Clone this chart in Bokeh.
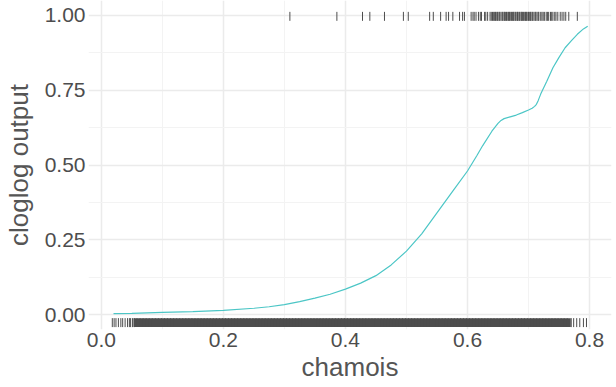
import numpy as np
from bokeh.plotting import figure
from bokeh.models import Range1d, FixedTicker
from bokeh.embed import file_html
from bokeh.resources import INLINE

# response curve (chamois -> cloglog output)
curve_x = [0.02, 0.05, 0.10, 0.15, 0.20, 0.25, 0.275, 0.30, 0.325, 0.35, 0.375,
           0.40, 0.425, 0.45, 0.475, 0.50, 0.525, 0.55, 0.575, 0.60, 0.615, 0.625,
           0.64, 0.65, 0.655, 0.66, 0.67, 0.68, 0.69, 0.70, 0.706, 0.710, 0.713,
           0.716, 0.72, 0.73, 0.74, 0.75, 0.76, 0.77, 0.78, 0.79, 0.797]
curve_y = [0.003, 0.004, 0.007, 0.010, 0.014, 0.021, 0.026, 0.033, 0.043, 0.055,
           0.068, 0.085, 0.105, 0.130, 0.166, 0.212, 0.270, 0.340, 0.410, 0.480,
           0.530, 0.565, 0.613, 0.639, 0.649, 0.655, 0.661, 0.667, 0.675, 0.684,
           0.690, 0.696, 0.703, 0.716, 0.737, 0.780, 0.825, 0.860, 0.892, 0.915,
           0.937, 0.955, 0.964]

# presence locations (top rug, y = 1)
presence_x = [0.309, 0.386, 0.428, 0.440, 0.464, 0.495, 0.503, 0.538, 0.544, 0.556,
              0.565, 0.569, 0.576, 0.587, 0.592, 0.595, 0.606, 0.609, 0.611, 0.614,
              0.618, 0.621, 0.623, 0.628, 0.630, 0.633, 0.637, 0.639, 0.641, 0.643,
              0.644, 0.646, 0.647, 0.649, 0.650, 0.652, 0.653, 0.655, 0.657, 0.658,
              0.660, 0.661, 0.662, 0.664, 0.665, 0.667, 0.668, 0.669, 0.671, 0.672,
              0.674, 0.675, 0.676, 0.678, 0.679, 0.681, 0.682, 0.683, 0.685, 0.686,
              0.688, 0.689, 0.690, 0.692, 0.693, 0.695, 0.696, 0.697, 0.699, 0.700,
              0.702, 0.703, 0.704, 0.706, 0.707, 0.709, 0.711, 0.712, 0.714, 0.716,
              0.717, 0.720, 0.722, 0.724, 0.726, 0.729, 0.731, 0.733, 0.736, 0.738,
              0.740, 0.743, 0.745, 0.748, 0.752, 0.755, 0.758, 0.761, 0.766, 0.780]

# background locations (bottom rug, y = 0): sparse edges and dense middle
background_sparse_x = [0.018, 0.021, 0.024, 0.028, 0.032, 0.035, 0.039, 0.043, 0.046,
                       0.048, 0.051, 0.054, 0.770, 0.774, 0.779, 0.784, 0.790, 0.795]
background_dense_milli = [
    56, 61, 66, 71, 76, 81, 86, 91, 96, 101, 106, 111, 116, 121, 126, 131, 136, 141,
    146, 151, 156, 161, 166, 171, 176, 181, 186, 191, 196, 201, 206, 211, 216, 221,
    226, 231, 236, 241, 246, 251, 256, 261, 266, 271, 276, 281, 286, 291, 296, 301,
    306, 311, 316, 321, 326, 331, 336, 341, 346, 351, 356, 361, 366, 371, 376, 381,
    386, 391, 396, 401, 406, 411, 416, 421, 426, 431, 436, 441, 446, 451, 456, 461,
    466, 471, 476, 481, 486, 491, 496, 501, 506, 511, 516, 521, 526, 531, 536, 541,
    546, 551, 556, 561, 566, 571, 576, 581, 586, 591, 596, 601, 606, 611, 616, 621,
    626, 631, 636, 641, 646, 651, 656, 661, 666, 671, 676, 681, 686, 691, 696, 701,
    706, 711, 716, 721, 726, 731, 736, 741, 746, 751, 756, 761, 766]

x_ticks = [0.0, 0.2, 0.4, 0.6, 0.8]
x_tick_labels = ["0.0", "0.2", "0.4", "0.6", "0.8"]
y_ticks = [0.0, 0.25, 0.5, 0.75, 1.0]
y_tick_labels = ["0.00", "0.25", "0.50", "0.75", "1.00"]

FONT = "Liberation Sans"
RUG = "#4D4D4D"

p = figure(width=616, height=387, output_backend="svg", toolbar_location=None,
           x_range=Range1d(-0.021, 0.836), y_range=Range1d(-0.05, 1.05),
           min_border_left=85, min_border_right=5, min_border_top=0,
           min_border_bottom=58)
p.outline_line_color = None
p.background_fill_color = "white"
p.border_fill_color = "white"

# grid
p.xaxis.ticker = FixedTicker(ticks=x_ticks, minor_ticks=[0.1, 0.3, 0.5, 0.7])
p.yaxis.ticker = FixedTicker(ticks=y_ticks, minor_ticks=[0.125, 0.375, 0.625, 0.875])
for g in (p.xgrid, p.ygrid):
    g.grid_line_color = "#EBEBEB"
    g.grid_line_width = 1.5
    g.minor_grid_line_color = "#F3F3F3"
    g.minor_grid_line_width = 1

p.xaxis.major_label_overrides = dict(zip(x_ticks, x_tick_labels))
p.yaxis.major_label_overrides = dict(zip(y_ticks, y_tick_labels))

for ax in (p.xaxis, p.yaxis):
    ax.axis_line_color = None
    ax.major_tick_line_color = None
    ax.minor_tick_line_color = None
    ax.major_tick_out = 0
    ax.major_tick_in = 0
    ax.minor_tick_out = 0
    ax.minor_tick_in = 0
    ax.major_label_text_font = FONT
    ax.major_label_text_font_size = "21px"
    ax.major_label_text_color = "#4D4D4D"
    ax.axis_label_text_font = FONT
    ax.axis_label_text_font_size = "26px"
    ax.axis_label_text_font_style = "normal"
    ax.axis_label_text_color = "#555555"
    ax.major_label_standoff = 3

p.xaxis.axis_label = "chamois"
p.yaxis.axis_label = "cloglog output"
p.xaxis.axis_label_standoff = 2
p.yaxis.axis_label_standoff = 8

# rugs
px = np.array(presence_x)
p.segment(x0=px, y0=0.982, x1=px, y1=1.012, line_color=RUG, line_width=1)

bs = np.array(background_sparse_x)
p.segment(x0=bs, y0=-0.042, x1=bs, y1=-0.012, line_color=RUG, line_width=1)
bd = np.array(background_dense_milli) / 1000.0
p.segment(x0=bd, y0=-0.042, x1=bd, y1=-0.012, line_color=RUG, line_width=4)

# response curve
p.line(curve_x, curve_y, line_color="#4CC6C6", line_width=1.2)

open("out.html", "w").write(file_html(p, INLINE))
